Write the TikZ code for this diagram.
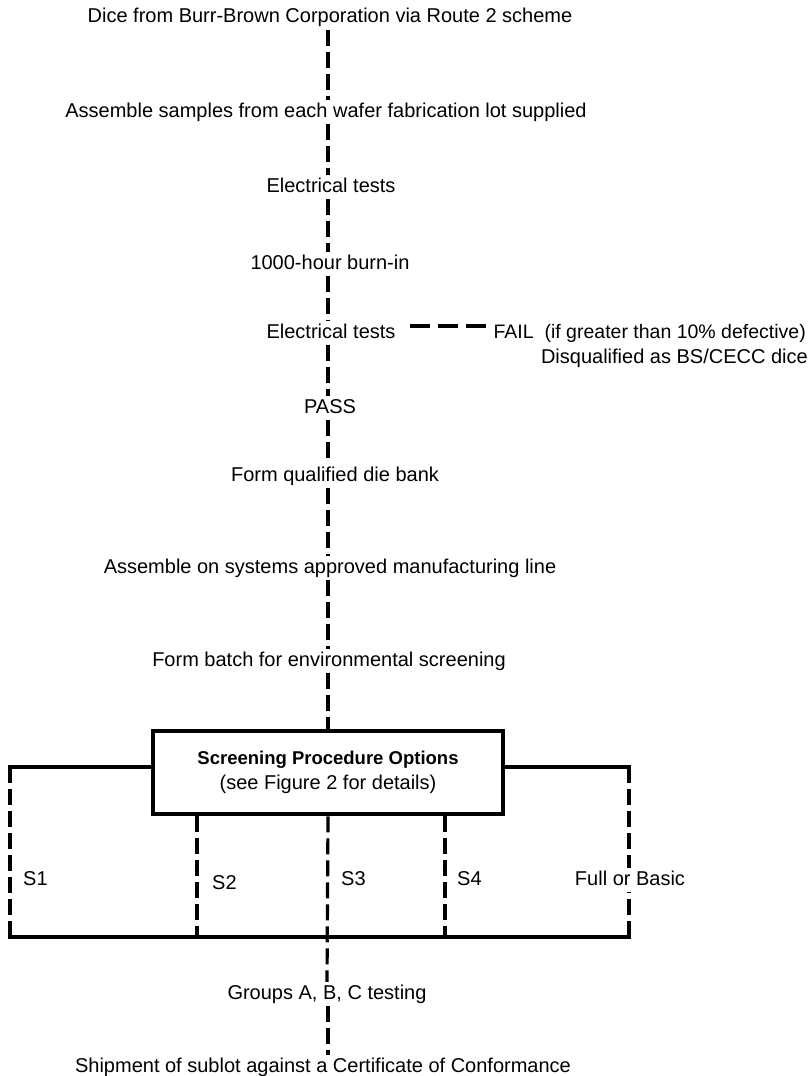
\documentclass[tikz,border=0pt]{standalone}
\usepackage{fontspec}
\setmainfont{Liberation Sans}
\begin{document}
\begin{tikzpicture}[x=1pt,y=-1pt,
  lbl/.style={inner sep=3pt, text height=14pt, text depth=4pt,
    font=\fontsize{20}{24}\selectfont},
  optbox/.style={draw, line width=4.5pt, minimum width=350pt, minimum height=83pt,
    align=center, inner sep=4pt, font=\fontsize{20}{25}\selectfont},
  flowline/.style={line width=3.2pt, dash pattern=on 16pt off 6pt},
  failline/.style={line width=3.2pt, dash pattern=on 20pt off 8pt},
  barline/.style={line width=4pt, line cap=rect},
  branchlbl/.style={lbl, anchor=west},
]
% page and background
\fill[white] (0,0) rectangle (811,1076);
\useasboundingbox (0,0) rectangle (811,1076);

% x position of the main flow line
\coordinate (mx) at (328,0);

% main flow steps
\node[lbl] (dice)    at (330,18)  {Dice from Burr-Brown Corporation via Route 2 scheme};
\node[lbl] (samples) at (326,112) {Assemble samples from each wafer fabrication lot supplied};
\node[lbl] (elec1)   at (331,187) {Electrical tests};
\node[lbl] (burn)    at (330,264) {1000-hour burn-in};
\node[lbl] (elec2)   at (331,333) {Electrical tests};
\node[lbl, anchor=east, font=\fontsize{19.5}{24}\selectfont] (fail) at (809,333)
  {FAIL\ \ (if greater than 10\% defective)};
\node[lbl, anchor=east] (disq) at (811,358) {Disqualified as BS/CECC dice};
\node[lbl] (pass)    at (330,408) {PASS};
\node[lbl] (bank)    at (335,476) {Form qualified die bank};
\node[lbl] (line)    at (330,568) {Assemble on systems approved manufacturing line};
\node[lbl] (batch)   at (329,661) {Form batch for environmental screening};

% screening options box
\node[optbox] (opts) at (328,772.5)
  {{\fontsize{18.5}{25}\selectfont\bfseries Screening Procedure Options}\\
   (see Figure 2 for details)};

% testing and shipment
\node[lbl] (groups) at (327,994)  {Groups A, B, C testing};
\node[lbl] (ship)   at (323,1067) {Shipment of sublot against a Certificate of Conformance};

% connectors of the main flow
\draw[flowline] (dice.south -| mx)    -- (samples.north -| mx);
\draw[flowline] (samples.south -| mx) -- (elec1.north -| mx);
\draw[flowline] (elec1.south -| mx)   -- (burn.north -| mx);
\draw[flowline] (burn.south -| mx)    -- (elec2.north -| mx);
\draw[flowline] (elec2.south -| mx)   -- (pass.north -| mx);
\draw[flowline] (pass.south -| mx)    -- (bank.north -| mx);
\draw[flowline] (bank.south -| mx)    -- (line.north -| mx);
\draw[flowline] (line.south -| mx)    -- (batch.north -| mx);
\draw[flowline] (batch.south -| mx)   -- (opts.north);

% failure branch
\draw[failline, shorten <=11.5pt, shorten >=4pt]
  ([yshift=7pt]elec2.east) -- ([yshift=7pt]fail.west);

% frame of the screening options
\coordinate (lT) at (10,767);
\coordinate (lB) at (10,937);
\coordinate (rT) at (629,767);
\coordinate (rB) at (629,937);
\coordinate (s2) at (197,937);
\coordinate (s4) at (445,937);

\draw[barline] (opts.west |- lT) -- (lT);
\draw[barline] (opts.east |- rT) -- (rT);
\draw[flowline] (lT) -- (lB);
\draw[flowline] (rT) -- (rB);
\draw[flowline] (opts.south -| s2) -- (s2);
\draw[flowline] (opts.south -| s4) -- (s4);
\draw[flowline] (opts.south) -- (groups.north);
\draw[barline] (lB) -- (rB);
\draw[flowline] (groups.south -| mx) -- (ship.north -| mx);

% option labels
\node[branchlbl] (o1) at (20,880)  {S1};
\node[branchlbl] (o2) at (209,884) {S2};
\node[branchlbl] (o3) at (338,880) {S3};
\node[branchlbl] (o4) at (454,880) {S4};
\node[lbl, fill=white] (o5) at (630,880) {Full or Basic};
\end{tikzpicture}
\end{document}
